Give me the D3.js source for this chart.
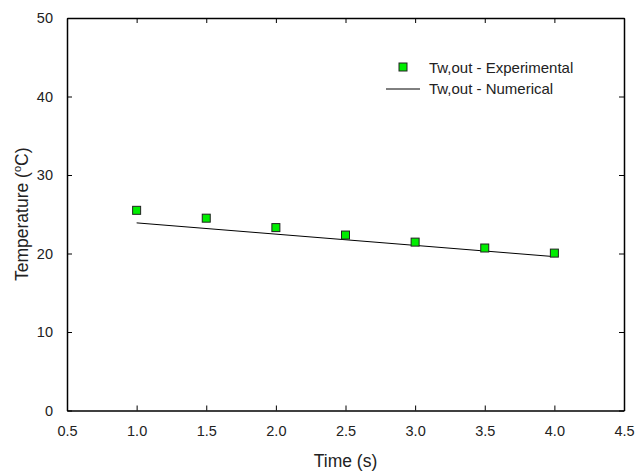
<!DOCTYPE html>
<html>
<head>
<meta charset="utf-8">
<script src="https://cdn.jsdelivr.net/npm/d3@7"></script>
<style>
  body { margin: 0; background: #fff; }
  svg text { font-family: "Liberation Sans", Arial, sans-serif; fill: #222; }
</style>
</head>
<body>
<div id="chart"></div>
<script>
// data
const expTime = [1.0, 1.5, 2.0, 2.5, 3.0, 3.5, 4.0];
const expTemp = [25.5, 24.5, 23.3, 22.35, 21.45, 20.7, 20.05];
const numTime = [1.0, 4.0];
const numTemp = [23.9, 19.6];
const xTicks = [0.5, 1.0, 1.5, 2.0, 2.5, 3.0, 3.5, 4.0, 4.5];
const yTicks = [0, 10, 20, 30, 40, 50];

const width = 635, height = 473;
const margin = {top: 18, right: 11, bottom: 62.5, left: 67};

const svg = d3.select("#chart").append("svg")
    .attr("width", width)
    .attr("height", height);

const x = d3.scaleLinear().domain([0.5, 4.5]).range([margin.left, width - margin.right]);
const y = d3.scaleLinear().domain([0, 50]).range([height - margin.bottom, margin.top]);

// axes, ticks pointing inside
svg.append("g")
    .attr("transform", `translate(0,${y(0)})`)
    .call(d3.axisBottom(x).tickValues(xTicks).tickFormat(d3.format(".1f")).tickSizeInner(-5).tickSizeOuter(0).tickPadding(15));
svg.append("g")
    .attr("transform", `translate(${x(0.5)},0)`)
    .call(d3.axisLeft(y).tickValues(yTicks).tickSizeInner(-5).tickSizeOuter(0).tickPadding(14));
svg.append("g")
    .attr("transform", `translate(0,${y(50)})`)
    .call(d3.axisTop(x).tickValues(xTicks).tickFormat("").tickSizeInner(-5).tickSizeOuter(0));
svg.append("g")
    .attr("transform", `translate(${x(4.5)},0)`)
    .call(d3.axisRight(y).tickValues(yTicks).tickFormat("").tickSizeInner(-5).tickSizeOuter(0));

svg.selectAll(".domain").attr("stroke", "#000").attr("stroke-width", 1.5);
svg.selectAll(".tick line").attr("stroke", "#000");
svg.selectAll(".tick text").style("font-size", "14.5px").attr("fill", "#222");

// axis titles
svg.append("text")
    .attr("x", (x(0.5) + x(4.5)) / 2)
    .attr("y", 467)
    .attr("text-anchor", "middle")
    .style("font-size", "17.5px")
    .text("Time (s)");

const yt = svg.append("text")
    .attr("transform", `translate(28,${(y(0) + y(50)) / 2}) rotate(-90)`)
    .attr("text-anchor", "middle")
    .style("font-size", "17.5px");
yt.append("tspan").text("Temperature (");
yt.append("tspan").attr("dy", -7).style("font-size", "11px").text("o");
yt.append("tspan").attr("dy", 7).text("C)");

// numerical line
const numData = numTime.map((t, i) => ({t: t, v: numTemp[i]}));
svg.append("path")
    .datum(numData)
    .attr("fill", "none")
    .attr("stroke", "#000")
    .attr("stroke-width", 1)
    .attr("d", d3.line().x(d => x(d.t)).y(d => y(d.v)));

// experimental squares
const expData = expTime.map((t, i) => ({t: t, v: expTemp[i]}));
const sq = 8;
svg.selectAll(".exp")
    .data(expData)
    .enter().append("rect")
    .attr("class", "exp")
    .attr("x", d => x(d.t) - sq / 2)
    .attr("y", d => y(d.v) - sq / 2)
    .attr("width", sq)
    .attr("height", sq)
    .attr("fill", "#00ee00")
    .attr("stroke", "#222")
    .attr("stroke-width", 1);

// legend
const lg = svg.append("g");
lg.append("rect")
    .attr("x", 399).attr("y", 63).attr("width", sq).attr("height", sq)
    .attr("fill", "#00ee00").attr("stroke", "#222");
lg.append("text").attr("x", 429).attr("y", 73).style("font-size", "15px").text("Tw,out - Experimental");
lg.append("line")
    .attr("x1", 386).attr("x2", 420).attr("y1", 89).attr("y2", 89)
    .attr("stroke", "#000");
lg.append("text").attr("x", 429).attr("y", 93.5).style("font-size", "15px").text("Tw,out - Numerical");
</script>
</body>
</html>
